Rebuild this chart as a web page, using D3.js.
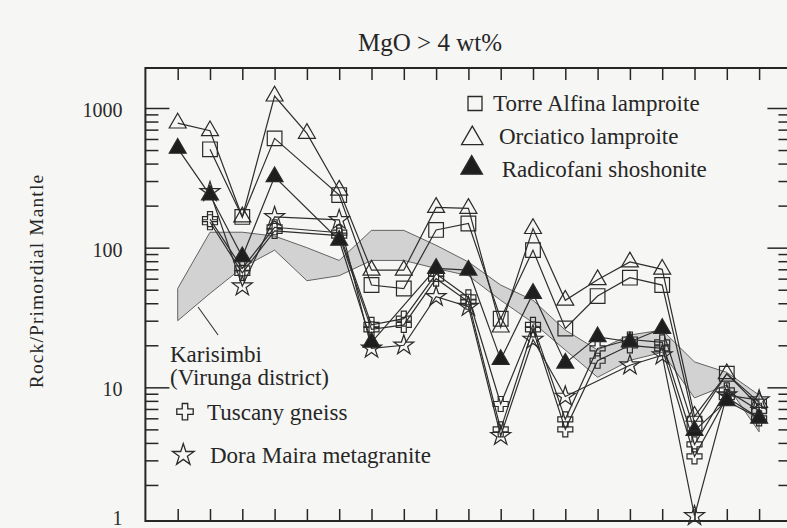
<!DOCTYPE html>
<html><head><meta charset="utf-8">
<script src="https://cdn.jsdelivr.net/npm/d3@7"></script>
<style>
body{margin:0;background:#f6f6f4;}
svg{display:block;font-family:"Liberation Serif","Times New Roman",serif;}
</style>
</head><body>
<svg id="c" width="787" height="528"></svg>
<script>
// ---- data ----
const elements = ["Cs","Rb","Ba","Th","U","K","Nb","Ta","La","Ce","Sr","Nd","P","Sm","Zr","Hf","Ti","Y","Yb"];
const torreAlfina = [null,506,166,606,null,238,54,51,134,149,31,96,26.4,45,61,54,5.5,12.5,7.3];
const orciatico   = [780,687,166,1217,658,258,69,69,194,191,27,137,42,59,79,70,6.2,12.5,7.8];
const radicofani  = [514,238,86,322,null,113,21,null,71,69,15.8,47,14.9,23,21.2,26.4,4.9,8,6.0];
const tuscanyA    = [null,160,71,140,null,128,28,31,65,44,7.6,28,5.9,19,22,21,3.9,9.5,6.8];
const tuscanyB    = [null,152,66,132,null,122,26,28,60,41,5.0,26,5.0,15.5,20,19,3.2,8.5,6.0];
const doraMaira   = [null,251,53,166,null,158,19,20,44.5,37.8,4.5,22,8.6,null,14.4,17,1.2,8.8,8.1];
const karisimbiUpper = [51,129,129,121,100,81,133,133,104,79,54,42,25.7,18.5,23.7,25.7,15.2,12.8,8.8];
const karisimbiLower = [30,47,72,96,58,63,81,81,71,63,42,29,18.5,11.8,15.6,17.8,8.4,10.4,4.8];
const karisimbiLeader = [[0.63,37.6],[1.25,23.7]];
const yTickValues = [1,10,100,1000];
const yTickLabels = ["1","10","100","1000"];
const yMinorValues = [2,3,4,5,6,7,8,9,20,30,40,50,60,70,80,90,200,300,400,500,600,700,800,900];

// ---- layout ----
const L = 145.4, R = 791.4, T = 68, B = 521;
const svg = d3.select("#c");
const x = d3.scalePoint().domain(elements).range([177.7, 759.1]);
const xi = d3.scaleLinear().domain([0, elements.length - 1]).range([177.7, 759.1]);
const y = d3.scaleLog().domain([1, 1000]).range([527, 108]);
const ink = "#262626";

// Karisimbi field
const band = elements.map((e,i)=>({e, lo:karisimbiLower[i], hi:karisimbiUpper[i]}));
svg.append("path").datum(band)
  .attr("d", d3.area().x(d=>x(d.e)).y0(d=>y(d.lo)).y1(d=>y(d.hi)))
  .attr("fill","#d2d2d2").attr("stroke","#555").attr("stroke-width",0.9);
svg.append("path").datum(karisimbiLeader)
  .attr("d", d3.line().x(d=>xi(d[0])).y(d=>y(d[1])))
  .attr("stroke","#333").attr("stroke-width",1.1).attr("fill","none");

// frame
svg.append("rect").attr("x",L).attr("y",T).attr("width",R-L).attr("height",B-T)
  .attr("fill","none").attr("stroke",ink).attr("stroke-width",2);

function styleAxis(g){ g.select(".domain").remove(); g.selectAll("line").attr("stroke",ink).attr("stroke-width",1.5); }
svg.append("g").attr("transform",`translate(${L},0)`).call(d3.axisRight(y).tickValues(yMinorValues).tickSize(13).tickFormat("")).call(styleAxis);
svg.append("g").attr("transform",`translate(${L},0)`).call(d3.axisRight(y).tickValues(yTickValues.slice(1)).tickSize(24).tickFormat("")).call(styleAxis);
svg.append("g").attr("transform",`translate(${R},0)`).call(d3.axisLeft(y).tickValues(yMinorValues).tickSize(13).tickFormat("")).call(styleAxis);
svg.append("g").attr("transform",`translate(${R},0)`).call(d3.axisLeft(y).tickValues(yTickValues.slice(1)).tickSize(24).tickFormat("")).call(styleAxis);
svg.append("g").attr("transform",`translate(0,${T})`).call(d3.axisBottom(x).tickSize(12).tickFormat("")).call(styleAxis);
svg.append("g").attr("transform",`translate(0,${B})`).call(d3.axisTop(x).tickSize(12).tickFormat("")).call(styleAxis);
const lab = svg.append("g").attr("transform",`translate(${L},2)`)
  .call(d3.axisLeft(y).tickValues(yTickValues).tickFormat((d,i)=>yTickLabels[i]).tickSize(0).tickPadding(23));
lab.select(".domain").remove();
lab.selectAll("text").attr("font-family","Liberation Serif").attr("font-size",20).attr("fill","#2a2a2a")
  .attr("dy",d=>d===1?"-0.25em":"0.32em");

// series
const series = [
  {vals:tuscanyA, sym:d3.symbolCross, size:125, fill:"none"},
  {vals:tuscanyB, sym:d3.symbolCross, size:125, fill:"none"},
  {vals:doraMaira, sym:d3.symbolStar, size:124, fill:"none"},
  {vals:radicofani, sym:d3.symbolTriangle, size:125, fill:"#1e1e1e"},
  {vals:torreAlfina, sym:d3.symbolSquare, size:215, fill:"none"},
  {vals:orciatico, sym:d3.symbolTriangle, size:125, fill:"none"},
];
const line = d3.line().x(d=>x(d.e)).y(d=>y(d.v));
series.forEach(s=>{
  const pts = elements.map((e,i)=>({e, v:s.vals[i]})).filter(d=>d.v!=null);
  svg.append("path").datum(pts).attr("d",line).attr("fill","none").attr("stroke","#2e2e2e").attr("stroke-width",1.2);
});
series.forEach(s=>{
  const pts = elements.map((e,i)=>({e, v:s.vals[i]})).filter(d=>d.v!=null);
  svg.append("g").selectAll("path").data(pts).join("path")
    .attr("transform",d=>`translate(${x(d.e)},${y(d.v)})`)
    .attr("d", d3.symbol(s.sym, s.size)())
    .attr("fill", s.fill).attr("stroke","#2a2a2a").attr("stroke-width",1.2);
});

// texts
const txt = (t,xx,yy,size,anchor)=>svg.append("text").attr("x",xx).attr("y",yy).attr("font-size",size)
  .attr("text-anchor",anchor||"start").attr("fill","#262626").text(t);
txt("MgO > 4 wt%", 430, 51, 25, "middle");
svg.append("text").attr("transform","translate(43,281) rotate(-90)").attr("text-anchor","middle")
  .attr("font-size",19.5).attr("letter-spacing",1.1).attr("fill","#262626").text("Rock/Primordial Mantle");

const leg = [
  {sym:d3.symbolSquare,size:196,fill:"none",sx:475,sy:103.5,label:"Torre Alfina lamproite",tx:493,ty:111},
  {sym:d3.symbolTriangle,size:200,fill:"none",sx:472.3,sy:138.5,label:"Orciatico lamproite",tx:499,ty:144},
  {sym:d3.symbolTriangle,size:200,fill:"#1e1e1e",sx:471.7,sy:168,label:"Radicofani shoshonite",tx:501.7,ty:177},
  {sym:d3.symbolCross,size:150,fill:"none",sx:185,sy:411.7,label:"Tuscany gneiss",tx:207,ty:420},
  {sym:d3.symbolStar,size:146,fill:"none",sx:183.3,sy:455,label:"Dora Maira metagranite",tx:210,ty:463},
];
leg.forEach(l=>{
  svg.append("path").attr("transform",`translate(${l.sx},${l.sy})`).attr("d",d3.symbol(l.sym,l.size)())
    .attr("fill",l.fill).attr("stroke","#2a2a2a").attr("stroke-width",1.3);
  txt(l.label,l.tx,l.ty,23);
});
txt("Karisimbi",170,362,23);
txt("(Virunga district)",170,385,23);
</script>
</body></html>
